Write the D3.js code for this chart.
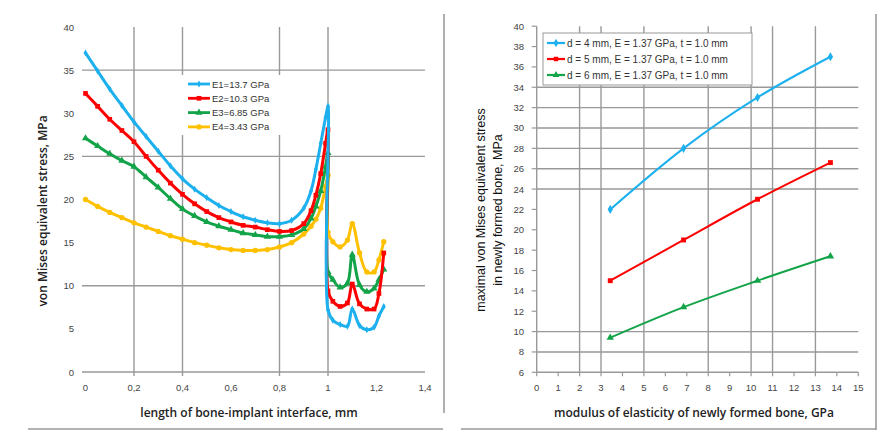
<!DOCTYPE html>
<html>
<head>
<meta charset="utf-8">
<script src="https://d3js.org/d3.v7.min.js"></script>
<style>
  body { margin: 0; background: #fff; }
  text { font-family: "Liberation Sans", Arial, sans-serif; }
</style>
</head>
<body>
<div id="vis"></div>
<script>
// ---- left chart data: stress along bone-implant interface ----
var lenX = [0, 0.05, 0.1, 0.15, 0.2, 0.25, 0.3, 0.35, 0.4, 0.45, 0.5, 0.55, 0.6, 0.65, 0.7, 0.75, 0.8, 0.85, 0.9, 0.93, 0.95, 0.97, 0.99, 1.0, 1.0, 1.02, 1.05, 1.08, 1.1, 1.13, 1.16, 1.19, 1.21, 1.23];
var stressE1 = [37.0, 34.9, 32.8, 30.9, 29.0, 27.3, 25.6, 23.9, 22.4, 21.2, 20.2, 19.3, 18.6, 18.0, 17.6, 17.3, 17.2, 17.6, 19.0, 21.0, 23.5, 26.5, 29.5, 30.8, 7.2, 6.0, 5.5, 5.3, 7.3, 5.4, 4.9, 5.2, 6.5, 7.6];
var stressE2 = [32.3, 30.8, 29.3, 28.0, 26.7, 25.0, 23.4, 21.9, 20.6, 19.5, 18.6, 17.9, 17.4, 17.0, 16.8, 16.5, 16.3, 16.4, 17.2, 18.7, 20.5, 23.0, 26.5, 28.1, 9.4, 8.2, 7.6, 8.0, 10.2, 7.9, 7.3, 7.3, 9.1, 13.8];
var stressE3 = [27.1, 26.2, 25.3, 24.5, 23.8, 22.6, 21.4, 20.1, 18.9, 18.1, 17.4, 16.9, 16.5, 16.1, 15.9, 15.7, 15.7, 15.9, 16.6, 17.8, 19.2, 21.0, 23.8, 25.4, 11.6, 10.7, 9.8, 10.3, 13.6, 10.1, 9.3, 9.7, 10.7, 11.9];
var stressE4 = [20.0, 19.2, 18.5, 17.9, 17.3, 16.8, 16.3, 15.8, 15.4, 15.0, 14.7, 14.4, 14.2, 14.1, 14.1, 14.2, 14.5, 15.0, 16.0, 16.9, 17.7, 19.0, 21.5, 22.8, 16.2, 15.1, 14.5, 15.3, 17.2, 13.8, 11.6, 11.6, 13.0, 15.1];
var leftNames = ["E1=13.7 GPa", "E2=10.3 GPa", "E3=6.85 GPa", "E4=3.43 GPa"];
var leftTicksX = [0, 0.2, 0.4, 0.6, 0.8, 1.0, 1.2, 1.4];
var leftTicksY = [0, 5, 10, 15, 20, 25, 30, 35, 40];
var leftGridX = [0.2, 0.4, 0.8, 1.0];
var leftGridY = [35, 25, 10];

// ---- right chart data: max stress vs modulus ----
var modulusX = [3.43, 6.85, 10.3, 13.7];
var maxD4 = [22.0, 28.0, 33.0, 37.0];
var maxD5 = [15.0, 19.0, 23.0, 26.6];
var maxD6 = [9.4, 12.4, 15.0, 17.4];
var rightNames = ["d = 4 mm, E = 1.37 GPa, t = 1.0 mm", "d = 5 mm, E = 1.37 GPa, t = 1.0 mm", "d = 6 mm, E = 1.37 GPa, t = 1.0 mm"];
var rightTicksX = d3.range(0, 16);
var rightTicksY = d3.range(6, 41, 2);
var rightGridX = [2, 3, 5, 8, 10, 11, 13];
var rightGridY = [34, 32, 30, 28, 26, 24, 10, 8];

var colors = ["#1cb0ee", "#ff0000", "#13a44a", "#ffc000"];
var symbols = [d3.symbolDiamond, d3.symbolSquare, d3.symbolTriangle, d3.symbolCircle];
var gridColor = "#999";

var svg = d3.select("#vis")
  .append("svg")
  .attr("width", 880)
  .attr("height", 432);

// frame lines of the two panels
function frameLine(x1, y1, x2, y2) {
  svg.append("line")
    .attr("x1", x1).attr("y1", y1).attr("x2", x2).attr("y2", y2)
    .attr("stroke", "#9a9a9a")
    .attr("stroke-width", 1.6);
}
frameLine(28, 429, 443, 429);
frameLine(444, 14, 444, 413);
frameLine(461, 429, 876, 429);
frameLine(876, 14, 876, 430);

// ================= LEFT CHART =================
var xL = d3.scaleLinear().domain([0, 1.4]).range([85.5, 425]);
var yL = d3.scaleLinear().domain([0, 40]).range([372, 27]);
var left = svg.append("g").attr("class", "left");

left.selectAll(".gx")
  .data(leftGridX)
  .enter()
  .append("line")
  .attr("x1", d => xL(d)).attr("x2", d => xL(d))
  .attr("y1", yL(40)).attr("y2", yL(0) + 4)
  .attr("stroke", gridColor)
  .attr("stroke-width", 1.4);

left.selectAll(".gy")
  .data(leftGridY.concat([0]))
  .enter()
  .append("line")
  .attr("x1", 82).attr("x2", xL(1.4))
  .attr("y1", d => yL(d)).attr("y2", d => yL(d))
  .attr("stroke", gridColor)
  .attr("stroke-width", 1.4);

left.selectAll(".ty")
  .data(leftTicksY)
  .enter()
  .append("text")
  .attr("x", 74)
  .attr("y", d => yL(d) + 3.5)
  .attr("text-anchor", "end")
  .attr("font-size", "9.5px")
  .attr("fill", "#444")
  .text(d => d);

left.selectAll(".tx")
  .data(leftTicksX)
  .enter()
  .append("text")
  .attr("x", d => xL(d))
  .attr("y", 391)
  .attr("text-anchor", "middle")
  .attr("font-size", "9.5px")
  .attr("fill", "#444")
  .text(d => String(+d.toFixed(1)).replace(".", ","));

left.append("text")
  .attr("x", 249)
  .attr("y", 417)
  .attr("text-anchor", "middle")
  .attr("font-size", "12px")
  .attr("fill", "#222")
  .style("font-family", "'Open Sans', sans-serif")
  .attr("font-weight", 600)
  .text("length of bone-implant interface, mm");

left.append("text")
  .attr("transform", "translate(47,211) rotate(-90)")
  .attr("text-anchor", "middle")
  .attr("font-size", "12px")
  .attr("fill", "#222")
  .style("font-family", "'Open Sans', sans-serif")
  .attr("font-weight", 600)
  .text("von Mises equivalent stress, MPa");

var leftSeries = [stressE1, stressE2, stressE3, stressE4];
var lineL = d3.line()
  .x(d => xL(d[0]))
  .y(d => yL(d[1]))
  .curve(d3.curveCatmullRom.alpha(0.5));

// draw back to front so blue ends on top
leftSeries.slice().reverse().forEach((vals, ri) => {
  var i = leftSeries.length - 1 - ri;
  var pts = lenX.map((x, k) => [x, vals[k]]);
  left.append("path")
    .datum(pts)
    .attr("d", lineL)
    .attr("fill", "none")
    .attr("stroke", colors[i])
    .attr("stroke-width", 3);
  left.selectAll(".m" + i)
    .data(pts)
    .enter()
    .append("path")
    .attr("transform", d => "translate(" + xL(d[0]) + "," + yL(d[1]) + ")")
    .attr("d", d3.symbol().type(symbols[i]).size(i == 0 ? 14 : 22))
    .attr("fill", colors[i]);
});

// left legend
var legL = left.append("g").attr("class", "legendL");
legL.append("rect")
  .attr("x", 178).attr("y", 75)
  .attr("width", 106).attr("height", 60)
  .attr("fill", "#fff");
leftNames.forEach((name, i) => {
  var ly = 84 + i * 14.3;
  legL.append("line")
    .attr("x1", 188).attr("x2", 210)
    .attr("y1", ly).attr("y2", ly)
    .attr("stroke", colors[i])
    .attr("stroke-width", 2.8);
  legL.append("path")
    .attr("transform", "translate(199," + ly + ")")
    .attr("d", d3.symbol().type(symbols[i]).size(i == 0 ? 14 : 22))
    .attr("fill", colors[i]);
  legL.append("text")
    .attr("x", 212)
    .attr("y", ly + 3.5)
    .attr("font-size", "9.5px")
    .attr("fill", "#333")
    .text(name);
});

// ================= RIGHT CHART =================
var xR = d3.scaleLinear().domain([0, 15]).range([536.7, 858.3]);
var yR = d3.scaleLinear().domain([6, 40]).range([372.3, 26.2]);
var right = svg.append("g").attr("class", "right");

right.selectAll(".gx")
  .data(rightGridX)
  .enter()
  .append("line")
  .attr("x1", d => xR(d)).attr("x2", d => xR(d))
  .attr("y1", yR(40)).attr("y2", yR(6))
  .attr("stroke", gridColor)
  .attr("stroke-width", 1.4);

right.selectAll(".gy")
  .data(rightGridY.concat([6]))
  .enter()
  .append("line")
  .attr("x1", xR(0)).attr("x2", xR(15))
  .attr("y1", d => yR(d)).attr("y2", d => yR(d))
  .attr("stroke", gridColor)
  .attr("stroke-width", 1.4);

// y axis line and ticks
right.append("line")
  .attr("x1", xR(0)).attr("x2", xR(0))
  .attr("y1", yR(40)).attr("y2", yR(6))
  .attr("stroke", gridColor)
  .attr("stroke-width", 1.4);
right.selectAll(".tky")
  .data(rightTicksY)
  .enter()
  .append("line")
  .attr("x1", xR(0) - 5).attr("x2", xR(0))
  .attr("y1", d => yR(d)).attr("y2", d => yR(d))
  .attr("stroke", gridColor)
  .attr("stroke-width", 1.2);
right.selectAll(".tkx")
  .data(rightTicksX)
  .enter()
  .append("line")
  .attr("x1", d => xR(d)).attr("x2", d => xR(d))
  .attr("y1", yR(6)).attr("y2", yR(6) + 4)
  .attr("stroke", gridColor)
  .attr("stroke-width", 1.2);

right.selectAll(".ty")
  .data(rightTicksY)
  .enter()
  .append("text")
  .attr("x", 524)
  .attr("y", d => yR(d) + 3.5)
  .attr("text-anchor", "end")
  .attr("font-size", "9.5px")
  .attr("fill", "#444")
  .text(d => d);

right.selectAll(".tx")
  .data(rightTicksX)
  .enter()
  .append("text")
  .attr("x", d => xR(d))
  .attr("y", 391)
  .attr("text-anchor", "middle")
  .attr("font-size", "9.5px")
  .attr("fill", "#444")
  .text(d => d);

right.append("text")
  .attr("x", 694)
  .attr("y", 417)
  .attr("text-anchor", "middle")
  .attr("font-size", "12px")
  .attr("fill", "#222")
  .style("font-family", "'Open Sans', sans-serif")
  .attr("font-weight", 600)
  .text("modulus of elasticity of newly formed bone, GPa");

right.append("text")
  .attr("transform", "translate(485,210) rotate(-90)")
  .attr("text-anchor", "middle")
  .attr("font-size", "12.5px")
  .attr("fill", "#111")
  .text("maximal von Mises equivalent stress");
right.append("text")
  .attr("transform", "translate(502,210) rotate(-90)")
  .attr("text-anchor", "middle")
  .attr("font-size", "12.5px")
  .attr("fill", "#111")
  .text("in newly formed bone, MPa");

var rightSeries = [maxD4, maxD5, maxD6];
var lineR = d3.line()
  .x(d => xR(d[0]))
  .y(d => yR(d[1]))
  .curve(d3.curveMonotoneX);

rightSeries.forEach((vals, i) => {
  var pts = modulusX.map((x, k) => [x, vals[k]]);
  right.append("path")
    .datum(pts)
    .attr("d", lineR)
    .attr("fill", "none")
    .attr("stroke", colors[i])
    .attr("stroke-width", 2);
  right.selectAll(".m" + i)
    .data(pts)
    .enter()
    .append("path")
    .attr("transform", d => "translate(" + xR(d[0]) + "," + yR(d[1]) + ")")
    .attr("d", d3.symbol().type(symbols[i]).size(24))
    .attr("fill", colors[i]);
});

// right legend
var legR = right.append("g").attr("class", "legendR");
legR.append("rect")
  .attr("x", 543).attr("y", 33)
  .attr("width", 209).attr("height", 52)
  .attr("fill", "#fff")
  .attr("stroke", "#999")
  .attr("stroke-width", 1);
rightNames.forEach((name, i) => {
  var ly = 43 + i * 16;
  legR.append("line")
    .attr("x1", 547).attr("x2", 565)
    .attr("y1", ly).attr("y2", ly)
    .attr("stroke", colors[i])
    .attr("stroke-width", 2.2);
  legR.append("path")
    .attr("transform", "translate(556," + ly + ")")
    .attr("d", d3.symbol().type(symbols[i]).size(20))
    .attr("fill", colors[i]);
  legR.append("text")
    .attr("x", 567)
    .attr("y", ly + 3.5)
    .attr("font-size", "10px")
    .attr("fill", "#333")
    .text(name);
});
</script>
</body>
</html>
